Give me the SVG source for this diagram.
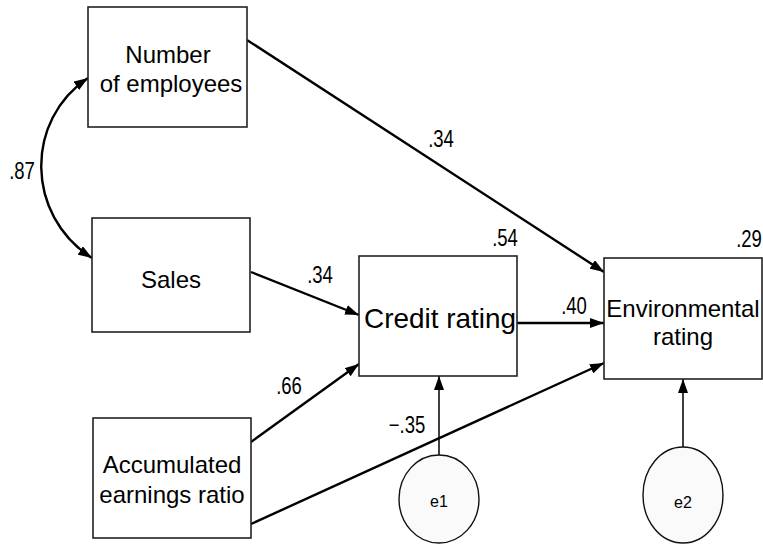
<svg xmlns="http://www.w3.org/2000/svg" width="763" height="547" viewBox="0 0 763 547">
<style>
.box{fill:#fff;stroke:#222;stroke-width:1.6}
.err{fill:#fafafa;stroke:#111;stroke-width:1.4}
.t{font-family:"Liberation Sans",Arial,sans-serif;font-size:24px;fill:#000;text-anchor:middle}
.n{font-family:"Liberation Sans",Arial,sans-serif;font-size:18.5px;fill:#000;text-anchor:middle}
.e{font-family:"Liberation Sans",Arial,sans-serif;font-size:16px;fill:#000;text-anchor:middle}
.c{fill:none;stroke:#000;stroke-width:2.4}
.c2{fill:none;stroke:#000;stroke-width:1.5}
</style>
<defs>
<marker id="ah" viewBox="0 0 14 10" refX="14" refY="5" markerWidth="14" markerHeight="10" markerUnits="userSpaceOnUse" orient="auto-start-reverse">
<path d="M0,0 L14,5 L0,10 Z" fill="#000"/>
</marker>
</defs>
<g id="connectors">
<path class="c" d="M88,78 C25,120 25,215 92,258" marker-start="url(#ah)" marker-end="url(#ah)"/>
<line class="c" x1="247" y1="40" x2="604" y2="272" marker-end="url(#ah)"/>
<line class="c" x1="251" y1="272" x2="359" y2="315" marker-end="url(#ah)"/>
<line class="c" x1="517" y1="323" x2="604" y2="323" marker-end="url(#ah)"/>
<line class="c" x1="251" y1="442" x2="359" y2="364" marker-end="url(#ah)"/>
<line class="c" x1="251" y1="524" x2="604" y2="363" marker-end="url(#ah)"/>
<line class="c2" x1="439" y1="455" x2="439" y2="376" marker-end="url(#ah)"/>
<line class="c2" x1="683" y1="447" x2="683" y2="379" marker-end="url(#ah)"/>
<text class="n" transform="translate(22,179) scale(1,1.25)">.87</text>
<text class="n" transform="translate(441,147) scale(1,1.25)">.34</text>
<text class="n" transform="translate(320,283) scale(1,1.25)">.34</text>
<text class="n" transform="translate(289,394) scale(1,1.25)">.66</text>
<text class="n" transform="translate(574,314) scale(1,1.25)">.40</text>
<text class="n" transform="translate(407,433) scale(1,1.25)">−.35</text>
</g>
<g id="employees">
<rect class="box" x="88" y="7" width="159" height="120"/>
<text class="t" x="168" y="63">Number</text>
<text class="t" x="171" y="92">of employees</text>
</g>
<g id="sales">
<rect class="box" x="92" y="218" width="158" height="114"/>
<text class="t" x="171" y="288">Sales</text>
</g>
<g id="accumulated">
<rect class="box" x="93" y="418" width="158" height="120"/>
<text class="t" x="172" y="473">Accumulated</text>
<text class="t" x="172" y="503">earnings ratio</text>
</g>
<g id="credit">
<rect class="box" x="359" y="256" width="158" height="120"/>
<text class="t" transform="translate(440,328) scale(1,1.12)" textLength="152" lengthAdjust="spacingAndGlyphs">Credit rating</text>
<text class="n" transform="translate(505,246) scale(1,1.25)">.54</text>
</g>
<g id="environmental">
<rect class="box" x="604" y="258" width="158" height="121"/>
<text class="t" x="683" y="317">Environmental</text>
<text class="t" x="683" y="345">rating</text>
<text class="n" transform="translate(749,247) scale(1,1.25)">.29</text>
</g>
<g id="e1">
<ellipse class="err" cx="439" cy="499" rx="40" ry="44"/>
<text class="e" x="439" y="507">e1</text>
</g>
<g id="e2">
<ellipse class="err" cx="683" cy="495" rx="40" ry="48"/>
<text class="e" x="683" y="508">e2</text>
</g>
</svg>
